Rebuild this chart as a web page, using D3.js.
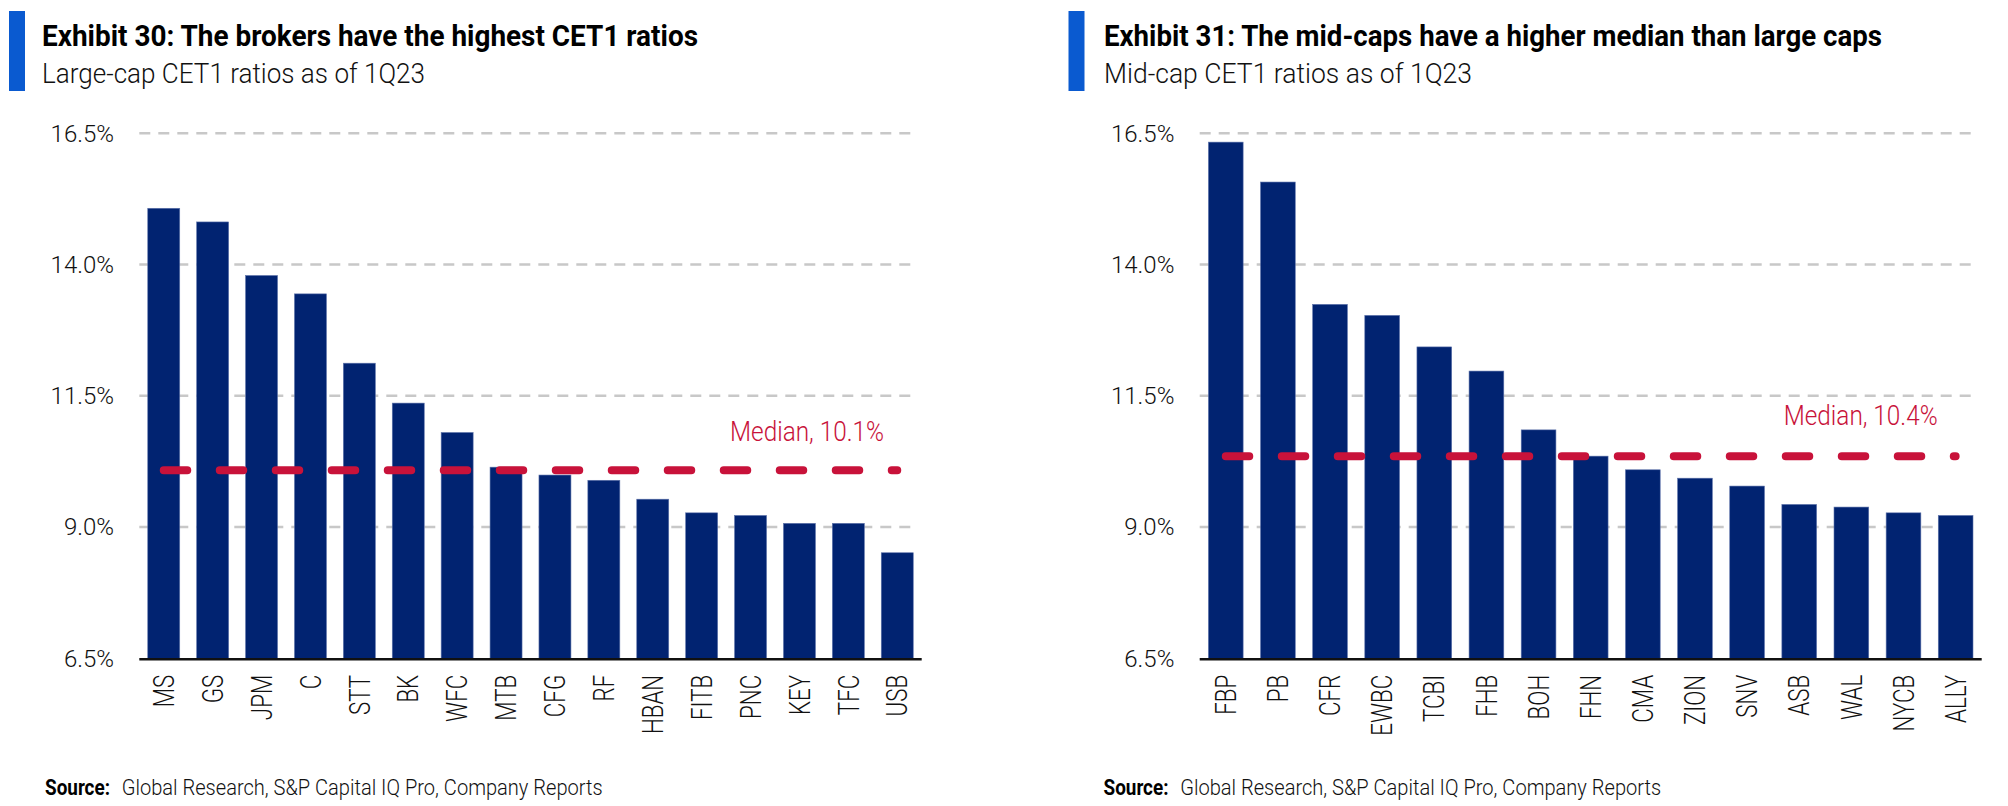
<!DOCTYPE html>
<html>
<head>
<meta charset="utf-8">
<script src="https://cdn.jsdelivr.net/npm/d3@7"></script>
<style>
  html, body { margin: 0; padding: 0; background: #ffffff; }
  svg { display: block; }
  text { font-family: Roboto, "Liberation Sans", sans-serif; }
</style>
</head>
<body>
<svg id="chart" width="2008" height="806"></svg>
<script>
// ---------- data ----------
const largeCaps = ["MS","GS","JPM","C","STT","BK","WFC","MTB","CFG","RF","HBAN","FITB","PNC","KEY","TFC","USB"];
const largeValues = [15.07,14.81,13.79,13.44,12.12,11.36,10.80,10.14,9.99,9.89,9.53,9.27,9.22,9.07,9.07,8.51];
const midCaps = ["FBP","PB","CFR","EWBC","TCBI","FHB","BOH","FHN","CMA","ZION","SNV","ASB","WAL","NYCB","ALLY"];
const midValues = [16.33,15.57,13.24,13.03,12.43,11.97,10.85,10.35,10.09,9.93,9.78,9.43,9.38,9.27,9.22];
const yTicks = [6.5, 9.0, 11.5, 14.0, 16.5];
const medianValues = [10.08, 10.35];
const medianLabels = ["Median, 10.1%", "Median, 10.4%"];
const titles = ["Exhibit 30: The brokers have the highest CET1 ratios",
                "Exhibit 31: The mid-caps have a higher median than large caps"];
const subtitles = ["Large-cap CET1 ratios as of 1Q23", "Mid-cap CET1 ratios as of 1Q23"];
const sourceLabel = "Source:";
const sourceText = "Global Research, S&P Capital IQ Pro, Company Reports";

// ---------- style ----------
const BAR = "#012371", MED = "#c8123a", GRID = "#c8c8c8", ACCENT = "#0a5ad0";

const svg = d3.select("#chart");
svg.append("rect").attr("width", 2008).attr("height", 806).attr("fill", "#fff");

const panels = [
  { cats: largeCaps, vals: largeValues, x0: 0, range: [139.3, 921.7], padIn: 0.346, gridEnd: 915,
    median: medianValues[0], medLabel: medianLabels[0], medLabelX: 884, medLabelDy: -29,
    title: titles[0], titleW: 656, sub: subtitles[0], subW: 383 },
  { cats: midCaps, vals: midValues, x0: 1060, range: [1199.7, 1981.7], padIn: 0.334, gridEnd: 1975,
    median: medianValues[1], medLabel: medianLabels[1], medLabelX: 1937.7, medLabelDy: -31.5,
    title: titles[1], titleW: 778, sub: subtitles[1], subW: 368 }
];

const y = d3.scaleLinear().domain([6.5, 16.5]).range([658.3, 133.2]);
const fmt = d3.format(".1f");

panels.forEach((p, i) => {
  const g = svg.append("g");
  const ox = p.x0;

  // header
  g.append("rect").attr("x", 9 + ox - (i ? 0.5 : 0)).attr("y", 11).attr("width", 16).attr("height", 80).attr("fill", ACCENT);
  g.append("text").attr("x", 42 + ox + (i ? 2 : 0)).attr("y", 45.7)
    .attr("font-size", 29).attr("font-weight", 700).attr("fill", "#000")
    .attr("textLength", p.titleW).attr("lengthAdjust", "spacingAndGlyphs")
    .text(p.title);
  g.append("text").attr("x", 42 + ox + (i ? 2 : 0)).attr("y", 83)
    .attr("font-size", 28).attr("font-weight", 300).attr("fill", "#111")
    .attr("textLength", p.subW).attr("lengthAdjust", "spacingAndGlyphs")
    .text(p.sub);

  const x = d3.scaleBand().domain(p.cats).range(p.range)
    .paddingInner(p.padIn).paddingOuter(p.padIn / 2);

  // gridlines
  g.selectAll(".grid").data(yTicks.filter(t => t > 6.5)).enter().append("line")
    .attr("x1", p.range[0]).attr("x2", p.gridEnd)
    .attr("y1", d => y(d)).attr("y2", d => y(d))
    .attr("stroke", GRID).attr("stroke-width", 2.5).attr("stroke-dasharray", "11,8");

  // y tick labels
  g.selectAll(".yt").data(yTicks).enter().append("text")
    .attr("x", p.range[0] - 25.3).attr("y", d => y(d)).attr("dy", "0.35em")
    .attr("text-anchor", "end").attr("font-size", 24).attr("font-weight", 300).attr("fill", "#111")
    .text(d => fmt(d) + "%");

  // bars
  g.selectAll(".bar").data(p.vals).enter().append("rect")
    .attr("x", (d, k) => x(p.cats[k])).attr("width", x.bandwidth())
    .attr("y", d => y(d)).attr("height", d => y(6.5) - y(d))
    .attr("fill", BAR).attr("stroke", "#5d72aa").attr("stroke-width", 0.6);

  // axis line
  g.append("line").attr("x1", p.range[0]).attr("x2", p.range[1])
    .attr("y1", y(6.5) + 1).attr("y2", y(6.5) + 1)
    .attr("stroke", "#111").attr("stroke-width", 2.5);

  // x labels
  g.selectAll(".xl").data(p.cats).enter().append("text")
    .attr("transform", d => `translate(${x(d) + x.bandwidth() / 2},${y(6.5) + 16.5}) rotate(-90) scale(0.77,1)`)
    .attr("dy", "0.35em").attr("text-anchor", "end")
    .attr("font-size", 29).attr("font-weight", 300).attr("fill", "#111")
    .text(d => d);

  // median line
  const c0 = x(p.cats[0]) + x.bandwidth() / 2;
  const c1 = x(p.cats[p.cats.length - 1]) + x.bandwidth() / 2;
  g.append("line").attr("x1", c0).attr("x2", c1)
    .attr("y1", y(p.median)).attr("y2", y(p.median))
    .attr("stroke", MED).attr("stroke-width", 8).attr("stroke-linecap", "round")
    .attr("stroke-dasharray", "23.5,32.5");
  g.append("text").attr("x", p.medLabelX - 154).attr("y", y(p.median) + p.medLabelDy)
    .attr("font-size", 27).attr("font-weight", 300).attr("fill", MED)
    .attr("textLength", 154).attr("lengthAdjust", "spacingAndGlyphs")
    .text(p.medLabel);

  // source
  g.append("text").attr("x", 45 + ox - (i ? 1.5 : 0)).attr("y", 795)
    .attr("font-size", 22).attr("font-weight", 700).attr("fill", "#000")
    .attr("textLength", 65).attr("lengthAdjust", "spacingAndGlyphs")
    .text(sourceLabel);
  g.append("text").attr("x", 121.7 + ox - (i ? 1.5 : 0)).attr("y", 795)
    .attr("font-size", 22).attr("font-weight", 300).attr("fill", "#111")
    .attr("textLength", 481).attr("lengthAdjust", "spacingAndGlyphs")
    .text(sourceText);
});
</script>
</body>
</html>
